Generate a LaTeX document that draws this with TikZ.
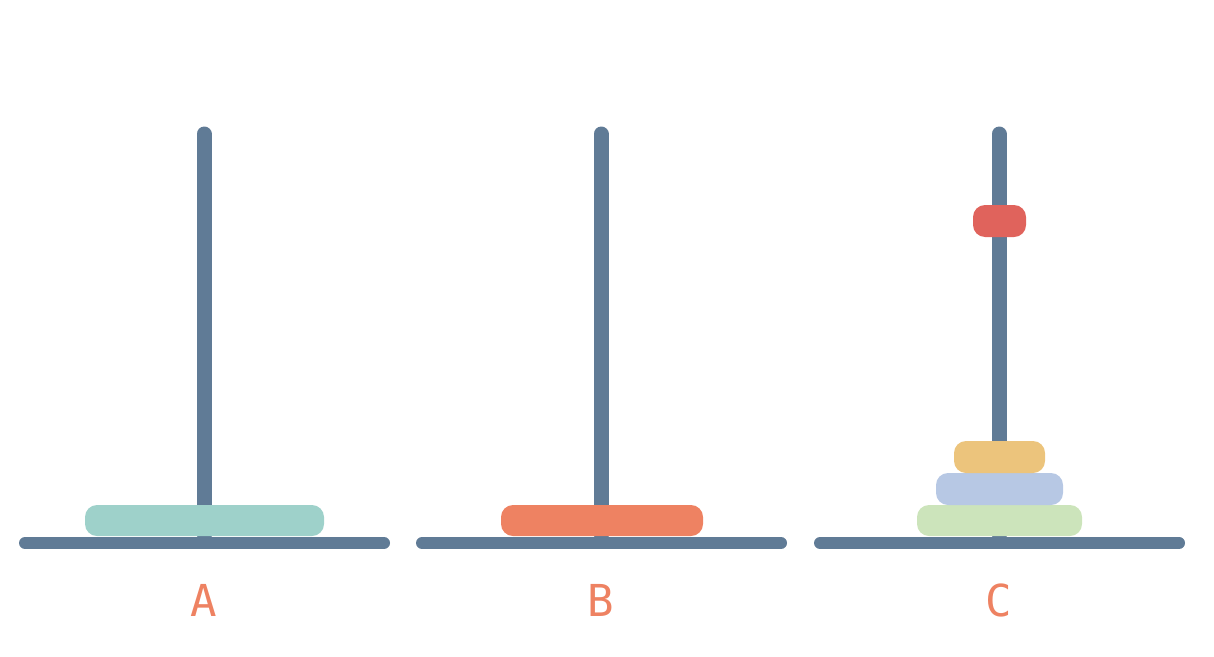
\documentclass[tikz,border=0pt]{standalone}
\usepackage{fontspec}
\setmonofont{DejaVu Sans Mono}
\definecolor{pole}{HTML}{607B96}
\definecolor{teal}{HTML}{9ED1CA}
\definecolor{orng}{HTML}{EE8262}
\definecolor{grn}{HTML}{CCE4BB}
\definecolor{blu}{HTML}{B7C8E4}
\definecolor{yel}{HTML}{ECC47C}
\definecolor{rd}{HTML}{E0635C}
\begin{document}
\begin{tikzpicture}[x=1pt,y=-1pt,
  rod/.style={pole,line width=15pt,line cap=round},
  baseline/.style={pole,line width=12pt,line cap=round},
  disk/.style={rounded corners=12pt},
  lbl/.style={text=orng,font=\ttfamily\fontsize{44}{44}\selectfont,inner sep=0pt}]
\useasboundingbox (0,0) rectangle (1214,656);
\foreach \x/\l in {204/A,601/B,999/C}{
  \draw[rod] (\x,134) -- (\x,535);
  \draw[baseline] (\x-179,543) -- (\x+180,543);
  \node[lbl] at (\x,600) {\l};
}
\fill[teal,disk] (85,505) rectangle (324,536);
\fill[orng,disk] (501,505) rectangle (703,536);
\fill[grn,disk] (917,505) rectangle (1082,536);
\fill[blu,disk] (936,473) rectangle (1063,505);
\fill[yel,disk] (954,441) rectangle (1045,473);
\fill[rd,disk] (973,205) rectangle (1026,237);
\end{tikzpicture}
\end{document}
